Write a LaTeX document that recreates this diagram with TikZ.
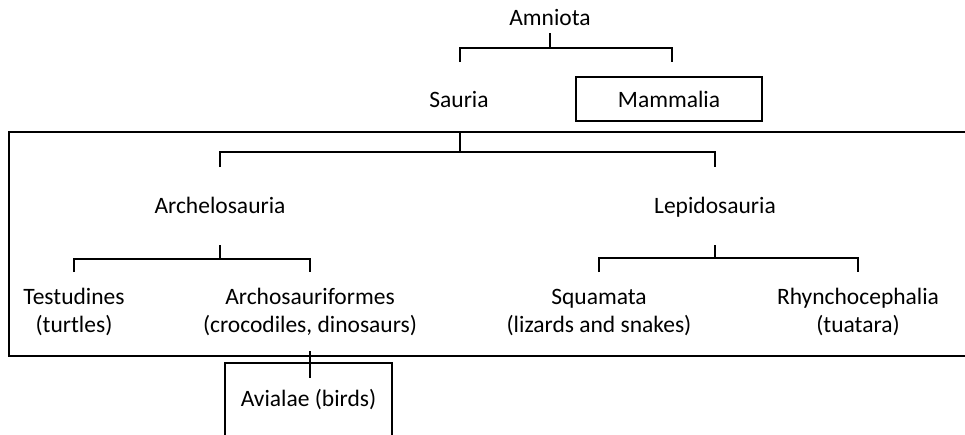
\documentclass[tikz,border=0pt]{standalone}
\usepackage{fontspec}
\setmainfont{Carlito}
\begin{document}
\begin{tikzpicture}[x=1pt,y=-1pt,
  br/.style={line width=2.3pt},
  bx/.style={draw, line width=2.6pt},
  lbl/.style={font=\fontsize{23.5}{28}\selectfont, inner sep=0pt, align=center}]
\useasboundingbox (0,0) rectangle (965,434);
\clip (0,0) rectangle (965,434);
% labels
\node[lbl,anchor=base] (amniota) at (550,25) {Amniota};
\node[lbl,anchor=base] (sauria) at (459,107) {Sauria};
\node[lbl,bx,minimum width=186pt,minimum height=44pt] (mammalia) at (669,99) {Mammalia};
\node[lbl,anchor=base] (archelo) at (220,213) {Archelosauria};
\node[lbl,anchor=base] (lepido) at (715,213) {Lepidosauria};
\node[lbl] (testud) at (74,312) {Testudines\\(turtles)};
\node[lbl] (archos) at (310,312) {Archosauriformes\\(crocodiles, dinosaurs)};
\node[lbl] (squam) at (599,312) {Squamata\\(lizards and snakes)};
\node[lbl] (rhyncho) at (858,312) {Rhynchocephalia\\(tuatara)};
\node[lbl,anchor=base] (avialae) at (308.5,406) {Avialae (birds)};
% frames
\draw[bx] (9,132) rectangle (980,356);
\draw[bx] (225,445) |- (392,363) -- (392,445);
% coordinates for brackets
\coordinate (a0) at (550,33); \coordinate (a1) at (550,48);
\coordinate (s0) at (460,132); \coordinate (s1) at (460,152);
\coordinate (r0) at (220,245); \coordinate (r1) at (220,259);
\coordinate (l0) at (715,245); \coordinate (l1) at (715,258);
\coordinate (v0) at (310,351); \coordinate (v1) at (310,378);
% brackets
\draw[br] (a0) -- (a1);
\draw[br] (460,62) |- (672,48) -- (672,62);
\draw[br] (s0) -- (s1);
\draw[br] (220,167) |- (715,152) -- (715,167);
\draw[br] (r0) -- (r1);
\draw[br] (74,272) |- (310,259) -- (310,272);
\draw[br] (l0) -- (l1);
\draw[br] (599,272) |- (858,258) -- (858,272);
\draw[br] (v0) -- (v1);
\end{tikzpicture}
\end{document}
